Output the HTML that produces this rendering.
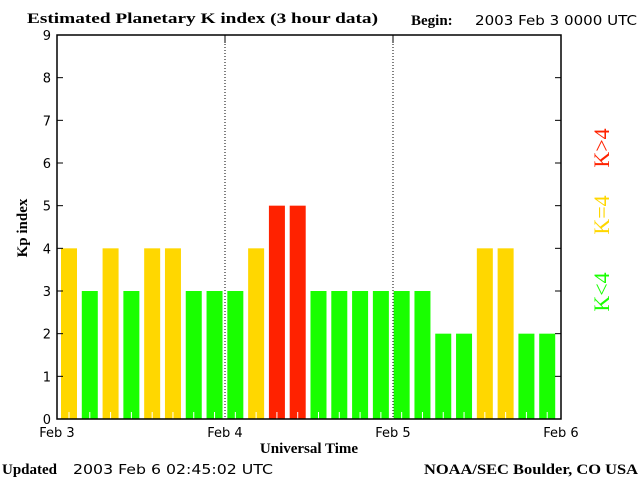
<!DOCTYPE html>
<html><head><meta charset="utf-8"><style>
body{margin:0;background:#fff;width:640px;height:480px;overflow:hidden}
svg{display:block}
.s{font-family:"DejaVu Sans","Liberation Sans",sans-serif;font-size:13px}
.b{font-family:"Liberation Serif",serif;font-weight:bold;font-size:15px}
.lg{font-family:"Liberation Serif",serif;font-size:22px}
</style></head><body>
<svg id="c" width="640" height="480">
<text class="b" x="27" y="23" textLength="351" lengthAdjust="spacingAndGlyphs">Estimated Planetary K index (3 hour data)</text>
<text class="b" x="411" y="25">Begin:</text>
<text class="s" x="475" y="25" textLength="162" lengthAdjust="spacingAndGlyphs">2003 Feb 3 0000 UTC</text>
<text class="b" x="27" y="228" transform="rotate(-90 27 228)" text-anchor="middle">Kp index</text>
<text class="b" x="309" y="453" text-anchor="middle">Universal Time</text>
<text class="b" x="2" y="474">Updated</text>
<text class="s" x="73" y="474" textLength="200" lengthAdjust="spacingAndGlyphs">2003 Feb  6 02:45:02 UTC</text>
<text class="b" x="638" y="474" text-anchor="end" textLength="214" lengthAdjust="spacingAndGlyphs">NOAA/SEC Boulder, CO USA</text>
<g id="bars"></g>
<g id="axes"></g>
<text class="lg" x="609" y="292" transform="rotate(-90 609 292)" fill="#19ff00" text-anchor="middle">K&lt;4</text>
<text class="lg" x="609" y="215" transform="rotate(-90 609 215)" fill="#ffd700" text-anchor="middle">K=4</text>
<text class="lg" x="609" y="148" transform="rotate(-90 609 148)" fill="#ff2200" text-anchor="middle">K&gt;4</text>
</svg>
<script>
const kpValues=[4,3,4,3,4,4,3,3, 3,4,5,5,3,3,3,3, 3,3,2,2,4,4,2,2];
const dayLabels=["Feb 3","Feb 4","Feb 5","Feb 6"];
const yTicks=[0,1,2,3,4,5,6,7,8,9];
const L=57,R=561,T=35,B=419,NS="http://www.w3.org/2000/svg";
const step=(R-L-5)/kpValues.length;
const xs=i=>L+4+step*i;
const ys=v=>B-(B-T)*v/9;
function mk(t,a,p){const e=document.createElementNS(NS,t);for(const k in a)e.setAttribute(k,a[k]);p.appendChild(e);return e;}
const bars=document.getElementById('bars'),ax=document.getElementById('axes');
kpValues.forEach((v,i)=>{
 const col=v<4?'#19ff00':(v==4?'#ffd700':'#ff2200');
 const r=mk('rect',{x:xs(i),y:ys(v),width:16,height:B-ys(v),fill:col},bars);
 
 
 const t=mk('line',{x1:xs(i)+8,x2:xs(i)+8,y1:B-7,y2:B,stroke:'#fff','stroke-width':1},bars);
 
 
});
const f=mk('rect',{x:L,y:T,width:R-L,height:B-T,fill:'none',stroke:'#000','stroke-width':1.5},ax);


yTicks.forEach(v=>{
 mk('line',{x1:L,x2:L+6,y1:ys(v),y2:ys(v),stroke:'#000'},ax);
 mk('line',{x1:R-6,x2:R,y1:ys(v),y2:ys(v),stroke:'#000'},ax);
 const t=mk('text',{x:L-6,y:ys(v)+5,'text-anchor':'end',class:'s','font-size':'15'},ax);
 t.textContent=v;
 
 
});
dayLabels.forEach((d,i)=>{
 const x=L+(R-L)*i/(dayLabels.length-1);
 if(i>0&&i<dayLabels.length-1){
  const g=mk('line',{x1:x,x2:x,y1:T,y2:B,stroke:'#000','stroke-dasharray':'1,2'},ax);
  
  
  mk('line',{x1:x,x2:x,y1:T,y2:T+8,stroke:'#000'},ax);
 }
 const t=mk('text',{x:x,y:437,'text-anchor':'middle',class:'s'},ax);
 t.textContent=d;
 
 
});
</script>
</body></html>
